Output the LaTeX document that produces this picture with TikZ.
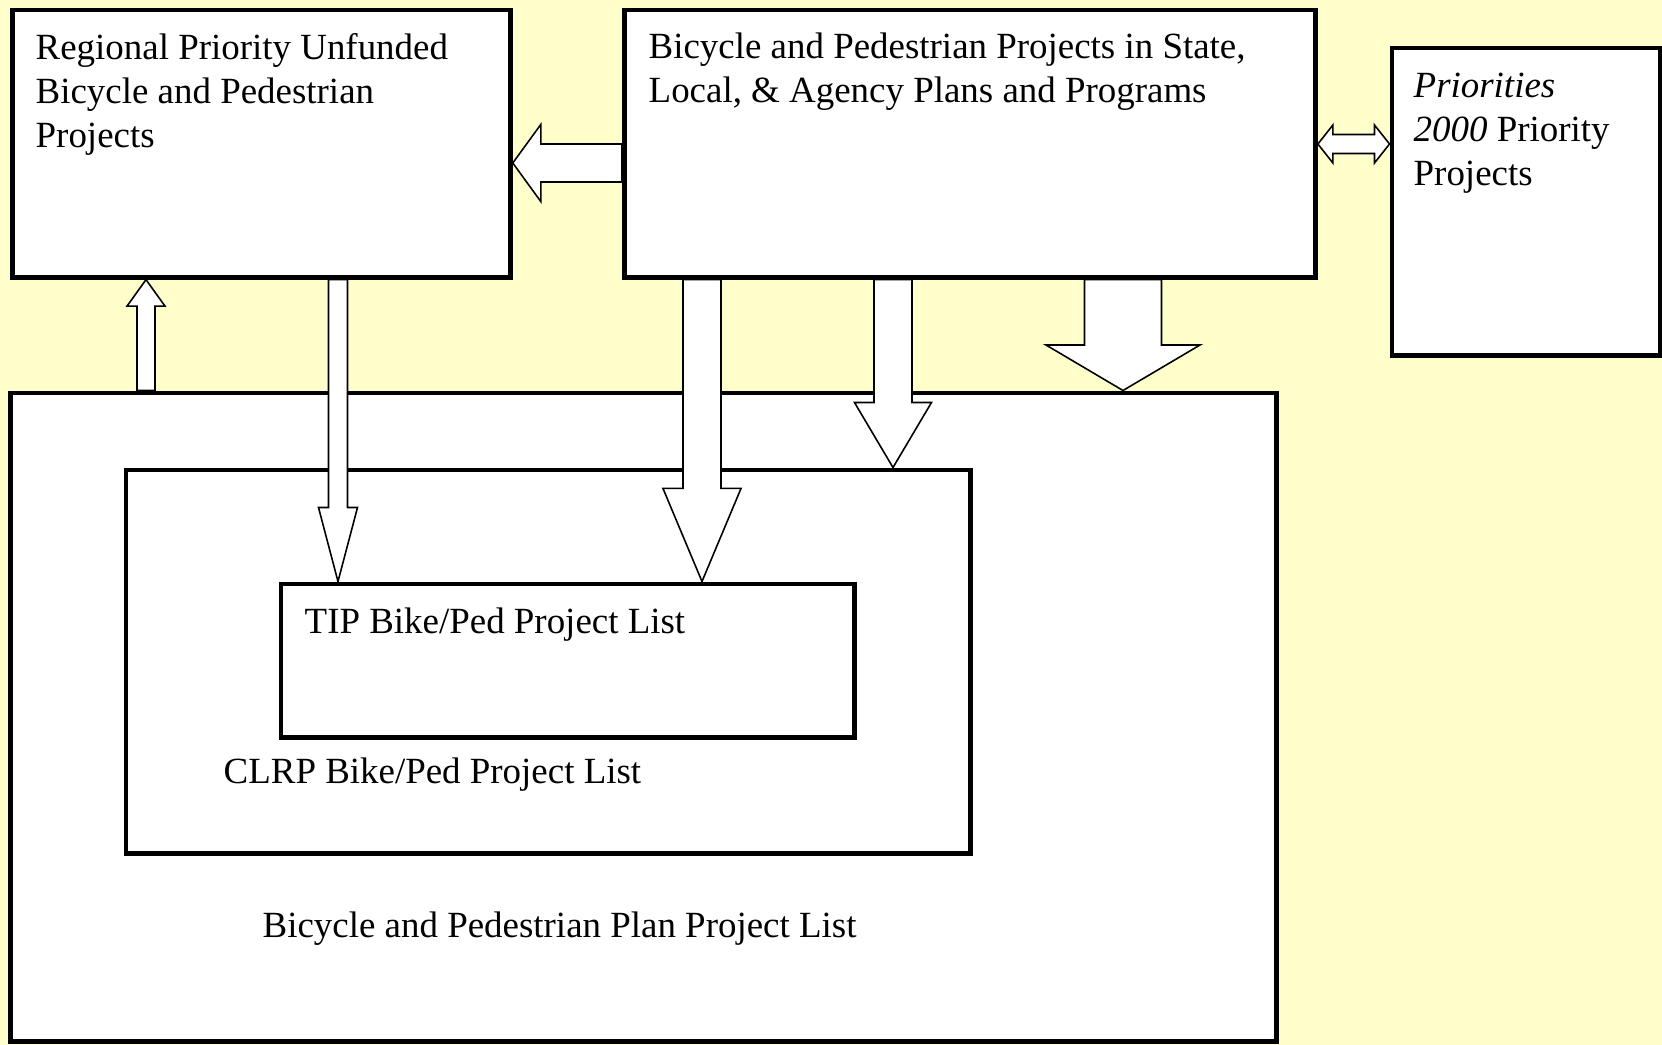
\documentclass[tikz,border=0pt]{standalone}
\usepackage{fontspec}
\setmainfont{Liberation Serif}
\usepackage{tikz}
\usetikzlibrary{calc}

\definecolor{bgYellow}{HTML}{FFFFCC}

\newcommand{\blockArrow}[5]{
	\path ($(#2)!#5!(#1)$) coordinate (hb);
	\draw[styleArrow] ($(#1)!#3!90:(#2)$) -- ($(hb)!#3!90:(#2)$) -- ($(hb)!#4!90:(#2)$) -- (#2)
		-- ($(hb)!#4!-90:(#2)$) -- ($(hb)!#3!-90:(#2)$) -- ($(#1)!#3!-90:(#2)$) -- cycle;
}
\newcommand{\doubleBlockArrow}[5]{
	\path ($(#2)!#5!(#1)$) coordinate (hb) ($(#1)!#5!(#2)$) coordinate (ha);
	\draw[styleArrow] (#1) -- ($(ha)!#4!90:(#2)$) -- ($(ha)!#3!90:(#2)$) -- ($(hb)!#3!90:(#2)$)
		-- ($(hb)!#4!90:(#2)$) -- (#2) -- ($(hb)!#4!-90:(#2)$) -- ($(hb)!#3!-90:(#2)$)
		-- ($(ha)!#3!-90:(#2)$) -- ($(ha)!#4!-90:(#2)$) -- cycle;
}

\begin{document}
\begin{tikzpicture}[x=0.01cm, y=-0.01cm]
			\fill[bgYellow] (0,0) rectangle (1662,1045);
			\useasboundingbox (0,0) rectangle (1662,1045);
			\begin{scope}
				[
					styleBox/.style={
						draw, fill=white, line width=1.42pt,
						inner sep=0, anchor=north west
						},
					styleText/.style={anchor=north west, inner sep=0, align=left,
						font=\fontsize{10.5}{12.5}\selectfont},
				]
				\node(planBox)[styleBox, minimum width=12.65cm, minimum height=6.48cm] at (8.5,390.5) {};
				\node(clrpBox)[styleBox, minimum width=8.44cm, minimum height=3.83cm] at (123.5,467.5) {};
				\node(tipBox)[styleBox, minimum width=5.73cm, minimum height=1.53cm] at (278.5,581.5) {};
				\node(regBox)[styleBox, minimum width=4.975cm, minimum height=2.67cm] at (10,7.5) {};
				\node(stateBox)[styleBox, minimum width=6.905cm, minimum height=2.67cm] at (622,7.5) {};
				\node(prioBox)[styleBox, minimum width=2.68cm, minimum height=3.07cm] at (1389.5,45.5) {};

				\node(regText)[styleText] at (35,28) {\strut Regional Priority Unfunded\\Bicycle and Pedestrian\\Projects};
				\node(stateText)[styleText] at (648,27) {\strut Bicycle and Pedestrian Projects in State,\\Local, \& Agency Plans and Programs};
				\node(prioText)[styleText] at (1413,66) {\strut\textit{Priorities}\\\textit{2000} Priority\\Projects};
				\node(tipText)[styleText] at (304,602) {\strut TIP Bike/Ped Project List};
				\node(clrpText)[styleText] at (223,752) {\strut CLRP Bike/Ped Project List};
				\node(planText)[styleText] at (262,906) {\strut Bicycle and Pedestrian Plan Project List};
			\end{scope}
			\begin{scope}
				[ styleArrow/.style={draw, fill=white, line width=0.45pt, line join=miter} ]
				\coordinate(stateOut) at (stateBox.west |- 0,163);
				\coordinate(regIn) at (regBox.east |- 0,163);
				\coordinate(stateSide) at (stateBox.east |- 0,144);
				\coordinate(prioSide) at (prioBox.west |- 0,144);
				\coordinate(planUp) at (146,0 |- planBox.north);
				\coordinate(regUp) at (146,0 |- regBox.south);
				\coordinate(regDown) at (338,0 |- regBox.south);
				\coordinate(tipInA) at (338,0 |- tipBox.north);
				\coordinate(stateDownA) at (702,0 |- stateBox.south);
				\coordinate(tipInB) at (702,0 |- tipBox.north);
				\coordinate(stateDownB) at (893,0 |- stateBox.south);
				\coordinate(clrpIn) at (893,0 |- clrpBox.north);
				\coordinate(stateDownC) at (1123,0 |- stateBox.south);
				\coordinate(planIn) at (1123,0 |- planBox.north);

				\blockArrow{stateOut}{regIn}{0.19cm}{0.385cm}{0.28cm}
				\doubleBlockArrow{stateSide}{prioSide}{0.095cm}{0.19cm}{0.15cm}
				\blockArrow{planUp}{regUp}{0.09cm}{0.19cm}{0.265cm}
				\blockArrow{regDown}{tipInA}{0.095cm}{0.195cm}{0.74cm}
				\blockArrow{stateDownA}{tipInB}{0.19cm}{0.39cm}{0.93cm}
				\blockArrow{stateDownB}{clrpIn}{0.19cm}{0.385cm}{0.65cm}
				\blockArrow{stateDownC}{planIn}{0.385cm}{0.77cm}{0.455cm}
			\end{scope}
\end{tikzpicture}
\end{document}
